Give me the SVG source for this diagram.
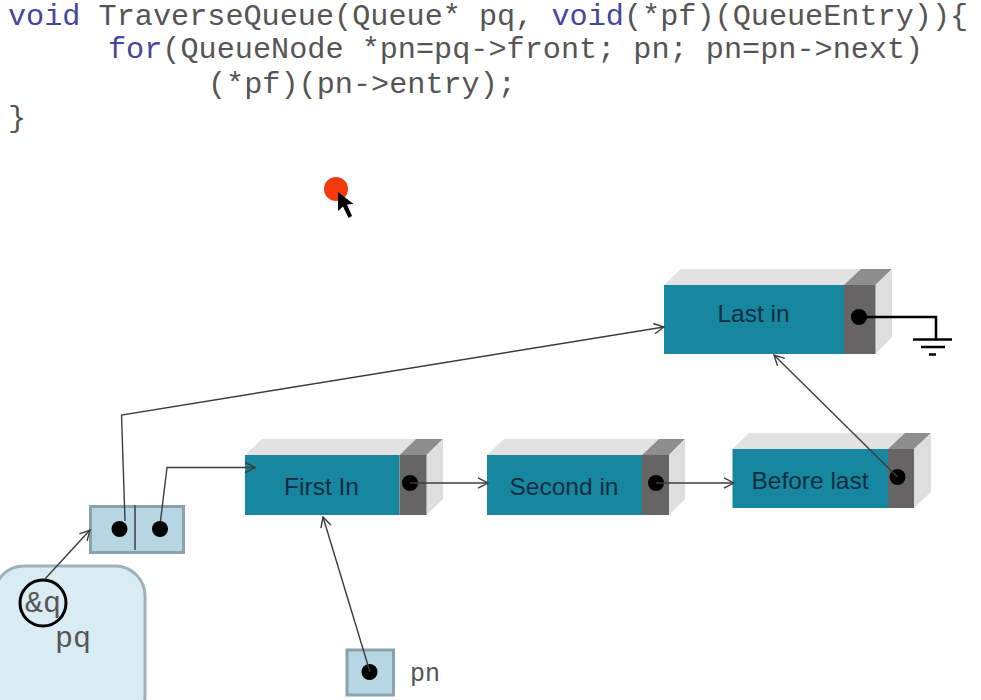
<svg xmlns="http://www.w3.org/2000/svg" width="981" height="700" viewBox="0 0 981 700">
<style>
.code{font-family:"Liberation Mono",monospace;font-size:30.2px;fill:#555;white-space:pre}
.kw{fill:#46469c}
.lbl{font-family:"Liberation Sans",Arial,sans-serif;font-size:24.500px;fill:#0c2c42;text-anchor:middle}
.mono{font-family:"Liberation Mono",monospace;fill:#555}
.front{fill:#17879f}
.side{fill:#666464}
.top{fill:#e2e2e2}
.topd{fill:#8e8e8e}
.right{fill:#dedede}
.cell{fill:#b5d6e2;stroke:#8aa2ac;stroke-width:3}
.dot{fill:#000}
.con{fill:none;stroke:#3c3c3c;stroke-width:1.4}
</style>
<defs>
<marker id="arrow" viewBox="0 0 12 12" refX="11" refY="6" markerWidth="12" markerHeight="12" markerUnits="userSpaceOnUse" orient="auto">
<path d="M1 0.8L11 6L1 11.2" fill="none" stroke="#3c3c3c" stroke-width="1.4"/>
</marker>
</defs>
<rect width="981" height="700" fill="#fff"/>
<g id="code">
<text class="code" x="8" y="25"><tspan class="kw">void</tspan> TraverseQueue(Queue* pq, <tspan class="kw">void</tspan>(*pf)(QueueEntry)){</text>
<text class="code" x="108" y="58"><tspan class="kw">for</tspan>(QueueNode *pn=pq-&gt;front; pn; pn=pn-&gt;next)</text>
<text class="code" x="208" y="93">(*pf)(pn-&gt;entry);</text>
<text class="code" x="8" y="127">}</text>
</g>
<g id="pointer">
<circle cx="336" cy="189" r="12" fill="#f23a0c"/>
<path d="M338 192L338 211L343 206.500L348.500 218L352 216L347 204.500L353.500 204Z" fill="#000"/>
</g>
<g id="node-last">
<path class="top" d="M664 285L681 269H875L844 285Z"/>
<path class="topd" d="M844 285L861 269H892L875.500 285Z"/>
<path class="right" d="M875.500 285L892 269V337L875.500 354Z"/>
<rect class="front" x="664" y="285" width="180" height="69"/>
<rect class="side" x="844" y="285" width="31.500" height="69"/>
<text class="lbl" x="753.500" y="322">Last in</text>
<circle class="dot" cx="859" cy="317" r="8"/>
</g>
<g id="node-before">
<path class="top" d="M732.500 449L749 433H905L888 449Z"/>
<path class="topd" d="M888 449L905 433H931L914 449Z"/>
<path class="right" d="M914 449L931 433V492L914 508Z"/>
<rect class="front" x="732.500" y="449" width="155.500" height="59"/>
<rect class="side" x="888" y="449" width="26" height="59"/>
<text class="lbl" x="810" y="489">Before last</text>
<circle class="dot" cx="897.500" cy="477" r="8"/>
</g>
<g id="node-second">
<path class="top" d="M487 455L504 439H659L642 455Z"/>
<path class="topd" d="M642 455L659 439H685L669 455Z"/>
<path class="right" d="M669 455L685 439V499L669 515Z"/>
<rect class="front" x="487" y="455" width="155" height="60"/>
<rect class="side" x="642" y="455" width="27" height="60"/>
<text class="lbl" x="564" y="495">Second in</text>
<circle class="dot" cx="656" cy="483" r="8"/>
</g>
<g id="node-first">
<path class="top" d="M245 455L262 439H416L399.500 455Z"/>
<path class="topd" d="M399.500 455L416 439H443L426.500 455Z"/>
<path class="right" d="M426.500 455L443 439V499L426.500 515Z"/>
<rect class="front" x="245" y="455" width="154.500" height="60"/>
<rect class="side" x="399.500" y="455" width="27" height="60"/>
<text class="lbl" x="321.500" y="495">First In</text>
<circle class="dot" cx="410" cy="483" r="8"/>
</g>
<g id="node-queue">
<rect class="cell" x="90.500" y="506.500" width="93" height="46"/>
<path d="M135 505V550" stroke="#4a5a62" stroke-width="1.800" fill="none"/>
<circle class="dot" cx="119.500" cy="529" r="8"/>
<circle class="dot" cx="160" cy="529" r="8"/>
</g>
<g id="node-pq">
<rect x="-6" y="566" width="151" height="160" rx="30" fill="#daecf3" stroke="#9db2ba" stroke-width="3"/>
<circle cx="43" cy="603" r="23" fill="none" stroke="#000" stroke-width="3"/>
<text class="mono" x="25" y="612" font-size="30">&amp;q</text>
<text class="mono" x="55" y="647" font-size="30">pq</text>
</g>
<g id="node-pn">
<rect class="cell" x="347" y="650" width="46.500" height="45"/>
<circle class="dot" cx="369.500" cy="672" r="8"/>
<text class="mono" x="410" y="681" font-size="25">pn</text>
</g>
<g id="connectors">
<path class="con" d="M125 521L121.500 415L664 327" marker-end="url(#arrow)"/>
<path class="con" d="M160.500 521L167 467.500H255" marker-end="url(#arrow)"/>
<path class="con" d="M44 580L90 530" marker-end="url(#arrow)"/>
<path class="con" d="M370 672L323 517" marker-end="url(#arrow)"/>
<path class="con" d="M897.500 477L774 355" marker-end="url(#arrow)"/>
<path class="con" d="M410 483H488" marker-end="url(#arrow)"/>
<path class="con" d="M656 483H734" marker-end="url(#arrow)"/>
<path d="M859 317H936V339" fill="none" stroke="#000" stroke-width="2.500"/>
<path d="M913 339.500H952M921 347H945M929 354.500H936" fill="none" stroke="#000" stroke-width="2.500"/>
</g>
</svg>
